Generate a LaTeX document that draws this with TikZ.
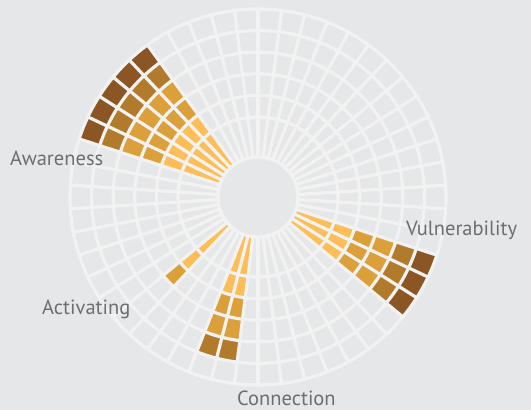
\documentclass[tikz,border=0pt]{standalone}
\usepackage{fontspec}
\setmainfont{PT Sans}
\definecolor{bggray}{HTML}{E6E7E8}
\definecolor{gridwhite}{HTML}{F2F2F2}
\definecolor{barlight}{HTML}{FDBE57}
\definecolor{barmid}{HTML}{DCA03B}
\definecolor{bardark}{HTML}{B27B2B}
\definecolor{bardeep}{HTML}{8C5524}
\definecolor{labelgray}{HTML}{6D6E71}
\newcommand{\ringpart}[5]{\fill[#1] (#2:#4) arc[start angle=#2,end angle=#3,radius=#4] -- (#3:#5) arc[start angle=#3,end angle=#2,radius=#5] -- cycle;}
\tikzset{
  gridline/.style={draw=gridwhite,line width=3.2pt},
  axislabel/.style={text=labelgray,font=\fontsize{20.5}{24}\selectfont,inner sep=0pt,anchor=base west}
}

\begin{document}
\begin{tikzpicture}[x=1pt,y=1pt]
\useasboundingbox (-258,-213) rectangle (273,197);
\fill[bggray] (-258,-213) rectangle (273,197);

\ringpart{barlight}{126}{162}{40}{101.6}
\ringpart{barmid}{126}{162}{101.6}{144.8}
\ringpart{bardark}{126}{162}{144.8}{166.4}
\ringpart{bardeep}{126}{162}{166.4}{188}

\ringpart{barlight}{-39.6}{-18}{40}{101.6}
\ringpart{barmid}{-39.6}{-18}{101.6}{144.8}
\ringpart{bardark}{-39.6}{-18}{144.8}{166.4}
\ringpart{bardeep}{-39.6}{-18}{166.4}{188}

\ringpart{barlight}{248.4}{262.8}{40}{101.6}
\ringpart{barmid}{248.4}{262.8}{101.6}{144.8}
\ringpart{bardark}{248.4}{262.8}{144.8}{166.4}

\ringpart{barlight}{219.6}{226.8}{40}{101.6}
\ringpart{barmid}{219.6}{226.8}{101.6}{123.2}

\foreach \r in {40,80,101.6,123.2,144.8,166.4,188}
  \draw[gridline] (0,0) circle[radius=\r];
\foreach \k in {0,...,49}
  \draw[gridline] (90+7.2*\k:40) -- (90+7.2*\k:188);

\node[axislabel] (awareness) at (-248,31.3) {Awareness};
\node[axislabel] (vulnerability) at (148,-38) {Vulnerability};
\node[axislabel] (activating) at (-216,-117.3) {Activating};
\node[axislabel] (connection) at (-21,-208.6) {Connection};
\end{tikzpicture}
\end{document}
